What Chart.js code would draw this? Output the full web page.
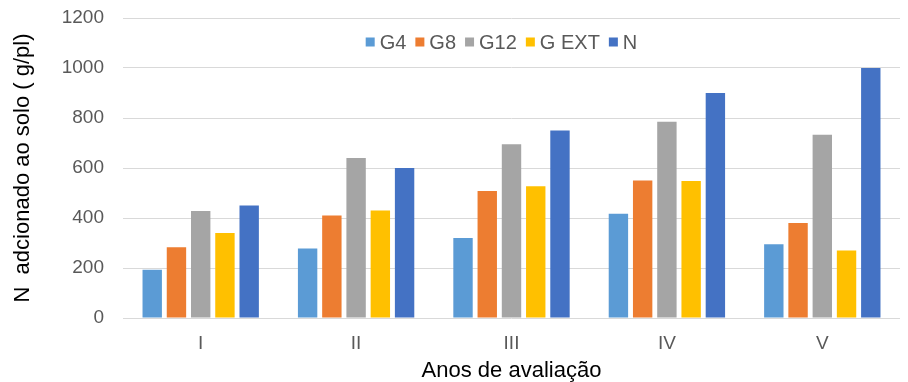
<!DOCTYPE html>
<html>
<head>
<meta charset="utf-8">
<script src="https://cdn.jsdelivr.net/npm/chart.js@4/dist/chart.umd.min.js"></script>
<style>
  html, body { margin: 0; padding: 0; background: #fff; }
  #wrap { width: 908px; height: 382px; position: relative; }
</style>
</head>
<body>
<div id="wrap"><canvas id="chart"></canvas></div>
<script>
// Evaluation years
const categories = ['I', 'II', 'III', 'IV', 'V'];

// Nitrogen added to the soil (g/plant) per treatment
const g4   = [193, 278, 320, 417, 295];
const g8   = [283, 410, 508, 550, 380];
const g12  = [428, 640, 695, 785, 733];
const gExt = [340, 430, 527, 548, 270];
const nRef = [450, 600, 750, 900, 1000];

const seriesNames = ['G4', 'G8', 'G12', 'G EXT', 'N'];
const seriesColors = ['#5B9BD5', '#ED7D31', '#A5A5A5', '#FFC000', '#4472C4'];
const seriesValues = [g4, g8, g12, gExt, nRef];

const yMin = 0, yMax = 1200, yStep = 200;

const FONT = "'Liberation Sans', Arial, sans-serif";

// Horizontal legend drawn over the top of the plot area
const overlayLegend = {
  id: 'overlayLegend',
  afterDraw(chart) {
    const ctx = chart.ctx;
    const area = chart.chartArea;
    const box = 9, gapText = 5, gapItem = 9;
    ctx.save();
    ctx.font = '20px ' + FONT;
    ctx.textBaseline = 'middle';
    const items = chart.data.datasets.map(ds => ({
      text: ds.label, color: ds.backgroundColor, w: ctx.measureText(ds.label).width
    }));
    const total = items.reduce((s, it) => s + box + gapText + it.w, 0) + gapItem * (items.length - 1);
    let x = (area.left + area.right) / 2 - total / 2 - 10;
    const y = area.top + 24;
    items.forEach(it => {
      ctx.fillStyle = it.color;
      ctx.fillRect(x, y - box / 2, box, box);
      x += box + gapText;
      ctx.fillStyle = '#595959';
      ctx.fillText(it.text, x, y + 1);
      x += it.w + gapItem;
    });
    ctx.restore();
  }
};

new Chart(document.getElementById('chart'), {
  type: 'bar',
  data: {
    labels: categories,
    datasets: seriesNames.map((name, i) => ({
      label: name,
      data: seriesValues[i],
      backgroundColor: seriesColors[i],
      borderWidth: 0,
      categoryPercentage: 0.78,
      barPercentage: 0.8
    }))
  },
  options: {
    responsive: true,
    maintainAspectRatio: false,
    animation: false,
    layout: { padding: { top: 18, right: 8, left: 0, bottom: 0 } },
    plugins: {
      tooltip: { enabled: false },
      legend: { display: false }
    },
    scales: {
      x: {
        afterFit(scale) { scale.height = 64; },
        grid: { display: false, drawTicks: false },
        border: { display: false },
        ticks: { color: '#595959', font: { family: FONT, size: 19 }, padding: 14 },
        title: {
          display: true,
          text: 'Anos de avaliação',
          color: '#000',
          font: { family: FONT, size: 22 },
          padding: { top: 0, bottom: -2 }
        }
      },
      y: {
        afterFit(scale) {
          scale.width = 123;
          scale.paddingTop = 0;
          scale.paddingBottom = 0;
        },
        min: yMin,
        max: yMax,
        ticks: {
          stepSize: yStep,
          color: '#595959',
          font: { family: FONT, size: 19 },
          padding: 19,
          callback: v => String(v)
        },
        grid: { color: '#D9D9D9', lineWidth: 1, drawTicks: false },
        border: { display: false },
        title: {
          display: true,
          text: 'N  adcionado ao solo ( g/pl)',
          color: '#000',
          font: { family: FONT, size: 22 },
          padding: { top: 10, bottom: 0 }
        }
      }
    }
  },
  plugins: [overlayLegend]
});
</script>
</body>
</html>
